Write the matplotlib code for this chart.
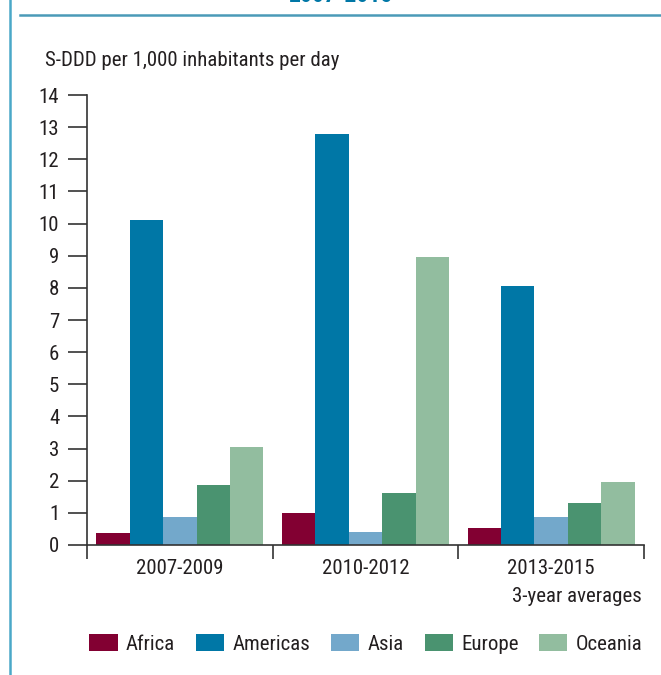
import numpy as np
import matplotlib
matplotlib.use("Agg")
import matplotlib.pyplot as plt
from matplotlib.lines import Line2D

periods = ["2007-2009", "2010-2012", "2013-2015"]
regions = ["Africa", "Americas", "Asia", "Europe", "Oceania"]
africa = [0.37, 1.00, 0.53]
americas = [10.11, 12.79, 8.06]
asia = [0.87, 0.40, 0.87]
europe = [1.87, 1.62, 1.31]
oceania = [3.05, 8.96, 1.96]
colors = ["#820032", "#0077a6", "#73a8cb", "#4a9370", "#92bd9f"]

plt.rcParams["font.family"] = ["Roboto Condensed", "DejaVu Sans"]
txt = "#231f20"
fs = 15

fig = plt.figure(figsize=(6.61, 6.75), dpi=100)
ax = fig.add_axes([87 / 661, 1 - 545 / 675, (644 - 87) / 661, (545 - 95) / 675])

series = [africa, americas, asia, europe, oceania]
x = np.arange(len(periods))
w = 0.18
for i, (name, vals) in enumerate(zip(regions, series)):
    ax.bar(x - 0.45 + w * (i + 0.5), vals, width=w, color=colors[i], label=name)

ax.set_xlim(-0.5, 2.5)
ax.set_ylim(0, 14)
ax.set_yticks(range(0, 15))
ax.set_xticks([-0.5, 0.5, 1.5, 2.5])
ax.set_xticklabels([])
ax.set_xticks(x, minor=True)
ax.set_xticklabels(periods, minor=True)
ax.tick_params(axis="x", which="minor", length=0, pad=10, labelsize=fs, labelcolor=txt)
ax.tick_params(axis="x", which="major", length=10, width=1.2, color="#333333")
ax.tick_params(axis="y", length=14, width=1.2, color="#333333", labelsize=fs, labelcolor=txt, pad=6)
for s in ["top", "right"]:
    ax.spines[s].set_visible(False)
for s in ["left", "bottom"]:
    ax.spines[s].set_color("#333333")
    ax.spines[s].set_linewidth(1.2)

fig.text(45 / 661, 1 - 60 / 675, "S-DDD per 1,000 inhabitants per day", fontsize=fs,
         color=txt, ha="left", va="center")
fig.text(642 / 661, 1 - 597 / 675, "3-year averages", fontsize=fs, color=txt,
         ha="right", va="center")

# title cut off at the top edge, plus frame lines
fig.text(340 / 661, 1 + 4.5 / 675, "2007-2015", fontsize=17, fontweight="bold",
         color="#0077a6", ha="center", va="center")
fig.add_artist(Line2D([20 / 661, 1], [1 - 15 / 675] * 2, color="#4a9ab8", lw=1.8))
fig.add_artist(Line2D([10 / 661] * 2, [0, 1], color="#4aa8c8", lw=1.8))

fig.legend(loc="center", bbox_to_anchor=(366 / 661, 1 - 644 / 675), ncol=5,
           frameon=False, fontsize=fs, handlelength=1.35, handleheight=0.9,
           handletextpad=0.4, columnspacing=1.0, labelcolor=txt)

fig.savefig("out.png", dpi=100)
